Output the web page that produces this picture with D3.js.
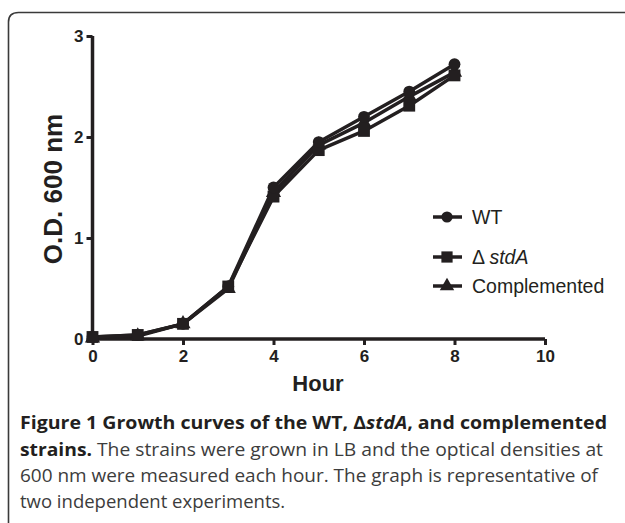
<!DOCTYPE html>
<html><head><meta charset="utf-8">
<script src="https://cdn.jsdelivr.net/npm/d3@7"></script>
<style>body{margin:0;background:#fff}svg{display:block}</style>
</head><body>
<svg id="c" width="625" height="523"></svg>
<script>
const hours = [0,1,2,3,4,5,6,7,8];
const wt = [0.02,0.04,0.15,0.52,1.50,1.95,2.20,2.45,2.72];
const stdA = [0.02,0.04,0.15,0.52,1.41,1.87,2.06,2.31,2.61];
const comp = [0.01,0.03,0.15,0.50,1.45,1.92,2.14,2.40,2.64];
const xTicks = [0,2,4,6,8,10];
const yTicks = [0,1,2,3];
const seriesNames = ["WT","stdA","Complemented"];
const captionLines = [
  [{t:"Figure 1 Growth curves of the WT, ",b:1},{t:"Δ",b:1},{t:"stdA",b:1,i:1},{t:", and complemented",b:1}],
  [{t:"strains.",b:1},{t:" The strains were grown in LB and the optical densities at"}],
  [{t:"600 nm were measured each hour. The graph is representative of"}],
  [{t:"two independent experiments."}]
];

const svg = d3.select("#c");
const ink = "#231f20";
svg.append("path")
  .attr("d","M8.5,540 L8.5,22 Q8.5,12.5 18.5,12.5 L640,12.5")
  .attr("fill","none").attr("stroke","#3a3a3a").attr("stroke-width",1.6);

const x = d3.scaleLinear().domain([0,10]).range([92.5,545]);
const y = d3.scaleLinear().domain([0,3]).range([339,36]);

const font = "'Liberation Sans', Arial, sans-serif";
const xa = svg.append("g").attr("transform","translate(0,339)")
  .call(d3.axisBottom(x).tickValues(xTicks).tickSize(6).tickPadding(5).tickFormat(d3.format("d")));
const ya = svg.append("g").attr("transform","translate(92.5,0)")
  .call(d3.axisLeft(y).tickValues(yTicks).tickSize(6).tickPadding(3).tickFormat(d3.format("d")));
[xa,ya].forEach(a=>{
  a.select(".domain").attr("stroke",ink).attr("stroke-width",3.5);
  a.selectAll(".tick line").attr("stroke",ink).attr("stroke-width",3);
  a.selectAll(".tick text").attr("fill",ink).attr("font-family",font)
    .attr("font-weight","bold").attr("font-size",17);
});
xa.select(".domain").attr("d","M92.5,0H545");
ya.select(".domain").attr("d","M0,36V339");

svg.append("text").attr("x",318).attr("y",391).attr("text-anchor","middle")
  .attr("font-family",font).attr("font-weight","bold").attr("font-size",22).attr("fill",ink).text("Hour");
svg.append("text").attr("transform","translate(62,189) rotate(-90)").attr("text-anchor","middle")
  .attr("font-family",font).attr("font-weight","bold").attr("font-size",26).attr("fill",ink).text("O.D. 600 nm");

const line = d3.line().x(d=>x(d[0])).y(d=>y(d[1]));
const data = [wt,stdA,comp].map(v=>hours.map((h,i)=>[h,v[i]]));
const sym = [d3.symbolCircle,d3.symbolSquare,d3.symbolTriangle];
const sz = [110,140,100];
const order = [2,1,0];
order.forEach(k=>{
  svg.append("path").attr("d",line(data[k])).attr("fill","none")
    .attr("stroke",ink).attr("stroke-width",3.5).attr("stroke-linejoin","round");
});
order.forEach(k=>{
  svg.append("g").selectAll("path").data(data[k]).join("path")
    .attr("transform",d=>`translate(${x(d[0])},${y(d[1])})`)
    .attr("d",d3.symbol().type(sym[k]).size(sz[k])).attr("fill",ink);
});

// legend
const ly = [217,257,286];
const lg = svg.append("g");
seriesNames.forEach((n,k)=>{
  lg.append("line").attr("x1",433).attr("x2",462).attr("y1",ly[k]).attr("y2",ly[k])
    .attr("stroke",ink).attr("stroke-width",3.5);
  lg.append("path").attr("transform",`translate(447,${ly[k]})`)
    .attr("d",d3.symbol().type(sym[k]).size(sz[k]*0.9)).attr("fill",ink);
  const t = lg.append("text").attr("x",472).attr("y",ly[k]+7)
    .attr("font-family",font).attr("font-size",19.5).attr("fill",ink);
  if(n==="stdA"){
    t.append("tspan").text("Δ ");
    t.append("tspan").attr("font-style","italic").text("stdA");
  } else t.text(n);
});

// caption
const cf = "'Open Sans','Noto Sans',sans-serif";
const cy = [429,456,482,508];
const widths = [587,583,578,null];
captionLines.forEach((parts,i)=>{
  const t = svg.append("text").attr("x",20).attr("y",cy[i])
    .attr("font-family",cf).attr("font-size",18.5);
  parts.forEach(p=>{
    t.append("tspan").text(p.t)
      .attr("font-weight",p.b?"bold":"normal")
      .attr("font-style",p.i?"italic":"normal")
      .attr("fill",p.b?ink:"#3c3c3c");
  });
  if(widths[i]) t.attr("textLength",widths[i]).attr("lengthAdjust","spacingAndGlyphs");
});
</script>
</body></html>
